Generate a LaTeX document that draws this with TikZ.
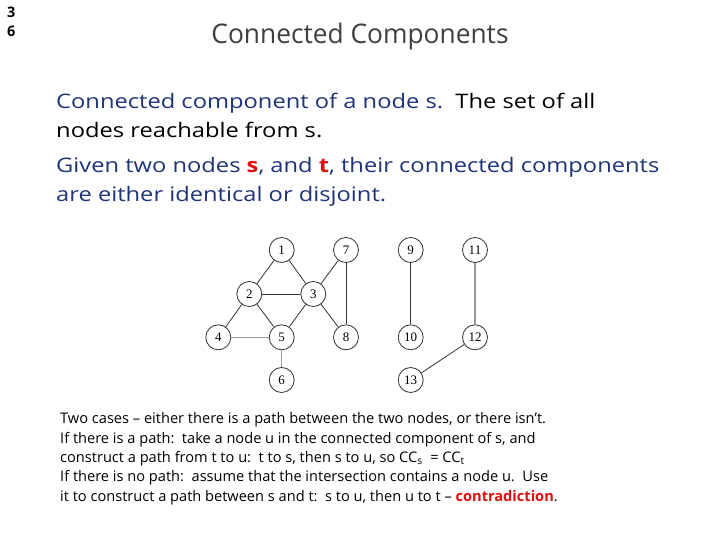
\documentclass[tikz,border=0pt]{standalone}
\usepackage{fontspec}
\setmainfont{Open Sans}
\newfontfamily\widefont{Open Sans}[FakeStretch=1.185]
\newfontfamily\titlefont{Open Sans}[FakeStretch=0.975]
\newfontfamily\numfont{Liberation Serif}
\definecolor{navy}{HTML}{1F3377}
\definecolor{titlegray}{HTML}{404040}
\definecolor{redtxt}{HTML}{E01010}
\definecolor{edgedark}{HTML}{333333}
\definecolor{edgelight}{HTML}{9A9A9A}
\tikzset{
  txt/.style={anchor=base west, inner sep=0pt, font=\widefont\fontsize{20}{24}\selectfont},
  small/.style={anchor=base west, inner sep=0pt, font=\fontsize{14.6}{16}\selectfont},
  gnode/.style={circle, draw=edgedark, line width=0.8pt, minimum size=25pt, inner sep=0pt, font=\numfont\fontsize{13}{14}\selectfont},
  edge/.style={draw=edgedark, line width=0.8pt},
  ledge/.style={draw=edgelight, line width=1.1pt}
}
\begin{document}
\begin{tikzpicture}[x=1pt,y=-1pt]
\useasboundingbox[fill=white] (0,0) rectangle (720,540);
\node[anchor=base west, inner sep=0pt, font=\fontsize{14.5}{16}\selectfont\bfseries] (p3) at (7,18) {3};
\node[anchor=base west, inner sep=0pt, font=\fontsize{14.5}{16}\selectfont\bfseries] (p6) at (7,37) {6};
\node[anchor=base, inner sep=0pt, text=titlegray, font=\titlefont\fontsize{27}{30}\selectfont] (title) at (360,44) {Connected Components};
\node[txt] (l1) at (56,109) {\textcolor{navy}{Connected component of a node s.}\ \ The set of all};
\node[txt] (l2) at (56,138) {nodes reachable from s.};
\node[txt, text=navy] (l3) at (56,173) {Given two nodes \textcolor{redtxt}{\bfseries s}, and \textcolor{redtxt}{\bfseries t}, their connected components};
\node[txt, text=navy] (l4) at (56,202) {are either identical or disjoint.};
% graph
\node[gnode] (n1) at (281.7,250) {1};
\node[gnode] (n7) at (346,250) {7};
\node[gnode] (n9) at (410.7,250) {9};
\node[gnode] (n11) at (475,250) {11};
\node[gnode] (n2) at (249.3,294) {2};
\node[gnode] (n3) at (313.3,294) {3};
\node[gnode] (n4) at (218.3,337.3) {4};
\node[gnode] (n5) at (281.7,337.3) {5};
\node[gnode] (n8) at (346,337.3) {8};
\node[gnode] (n10) at (410.7,337.3) {10};
\node[gnode] (n12) at (475,337.3) {12};
\node[gnode] (n6) at (281.7,380) {6};
\node[gnode] (n13) at (410.7,380) {13};
\draw[edge] (n1) -- (n2);
\draw[edge] (n1) -- (n3);
\draw[edge] (n2) -- (n3);
\draw[edge] (n2) -- (n4);
\draw[edge] (n2) -- (n5);
\draw[edge] (n3) -- (n5);
\draw[edge] (n3) -- (n7);
\draw[edge] (n3) -- (n8);
\draw[edge] (n7) -- (n8);
\draw[ledge] (n4) -- (n5);
\draw[ledge] (n5) -- (n6);
\draw[edge] (n9) -- (n10);
\draw[ledge] (n11) -- (n12);
\draw[edge] (n12) -- (n13);
% bottom text
\node[small] (b1) at (60,423) {Two cases – either there is a path between the two nodes, or there isn’t.};
\node[small] (b2) at (60,443) {If there is a path:\ \ take a node u in the connected component of s, and};
\node[small] (b3) at (60,462) {construct a path from t to u:\ \ t to s, then s to u, so CC\textsubscript{s}\ \ = CC\textsubscript{t}};
\node[small] (b4) at (60,481) {If there is no path:\ \ assume that the intersection contains a node u.\ \ Use};
\node[small] (b5) at (60,501) {it to construct a path between s and t:\ \ s to u, then u to t – \textcolor{redtxt}{\bfseries contradiction}.};
\end{tikzpicture}
\end{document}
